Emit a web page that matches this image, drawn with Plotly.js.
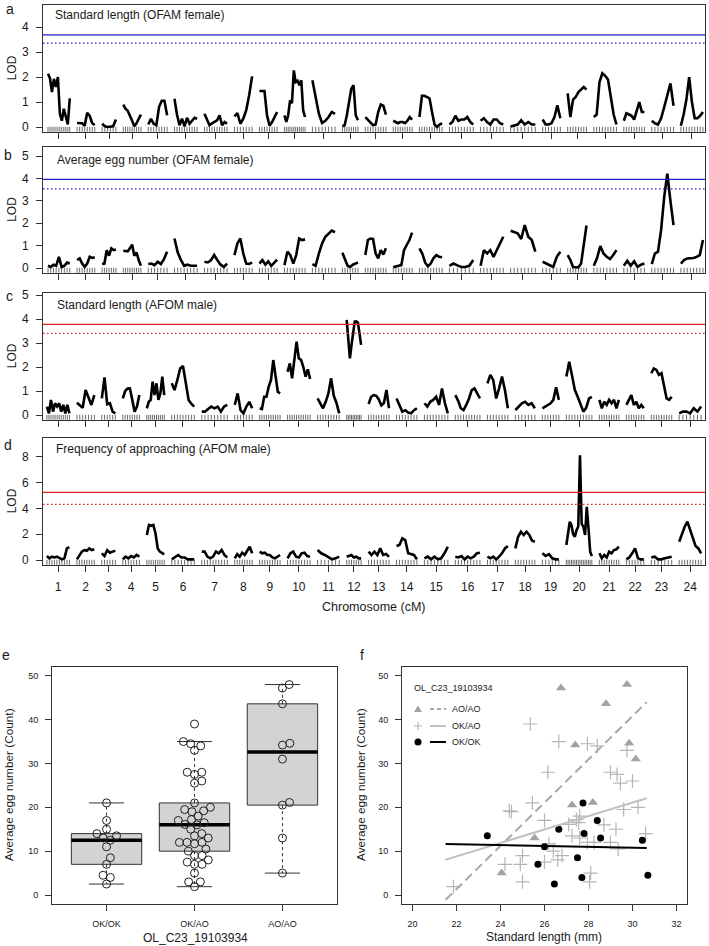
<!DOCTYPE html>
<html><head><meta charset="utf-8">
<script src="https://cdn.plot.ly/plotly-3.0.1.min.js"></script>
<style>html,body{margin:0;padding:0;background:#fff;}#chart{width:709px;height:946px;}</style>
</head><body><div id="chart"></div>
<script>
// ---------------- DATA ----------------
const chromosomes = ['1','2','3','4','5','6','7','8','9','10','11','12','13','14','15','16','17','18','19','20','21','22','23','24'];
const gapCM = 25;
const ofamLenCM = [74,60,47,60,64,77,77,60,60,70,77,53,70,64,77,81,77,84,60,64,77,70,74,75];
const afomLenCM = [75,58,45,55,58,75,85,58,68,75,72,48,68,68,78,82,68,65,55,85,65,58,68,73];

const lodSL_OFAM = [
 [2.13,1.95,1.4,1.93,1.6,2.0,0.53,0.25,0.73,0.4,0.1,1.15],
 [0.16,0.17,0.15,0.05,0.57,0.45,0.15,0.08],
 [0.13,0.03,0.0,0.02,0.03,0.3],
 [0.9,0.73,0.65,0.47,0.25,0.03,0.15,0.33,0.5],
 [0.1,0.33,0.13,0.07,0.8,1.05,1.05,0.47],
 [1.13,0.5,0.07,0.33,0.03,0.37,0.13,0.27,0.37,0.33],
 [0.53,0.27,0.07,0.15,0.2,0.27,0.47,0.07,0.2,0.13],
 [0.43,0.56,0.13,0.33,0.67,1.27,2.03],
 [1.44,1.44,1.44,0.47,0.05,0.2,0.4,0.6],
 [0.47,0.2,0.47,1.07,0.95,2.27,1.8,1.85,1.67,1.87,0.67,0.4],
 [1.87,1.2,0.53,0.16,0.25,0.4,0.6,0.53],
 [0.03,0.07,0.47,1.07,1.53,1.67,0.47,0.27],
 [0.4,0.3,0.2,0.07,0.1,0.6,0.9,0.85,0.5],
 [0.25,0.2,0.15,0.2,0.2,0.15,0.25,0.4,0.3],
 [0.4,1.25,1.25,1.2,1.15,0.6,0.1,0.0,0.1,0.15],
 [0.1,0.2,0.45,0.25,0.3,0.3,0.4,0.2,0.1],
 [0.25,0.35,0.2,0.1,0.3,0.3,0.15,0.1],
 [0.02,0.05,0.1,0.27,0.1,0.2,0.1,0.1],
 [0.3,0.1,0.1,0.15,0.4,0.87,0.35],
 [1.35,0.4,1.1,1.2,1.4,1.5,1.6,1.5],
 [0.4,0.5,1.8,2.15,2.05,1.9,1.2,0.5,0.1],
 [0.25,0.55,0.5,0.45,0.3,0.7,1.0,0.6,0.6],
 [0.25,0.15,0.1,0.35,0.8,1.3,1.75,0.85],
 [0.05,0.5,1.1,2.0,1.0,0.35,0.35,0.45,0.6]
];
const lodEgg_OFAM = [
 [0.1,0.05,0.15,0.1,0.5,0.05,0.1,0.25,0.2],
 [0.36,0.43,0.2,0.05,0.2,0.5,0.45,0.48],
 [0.18,0.2,0.8,0.55,0.88,0.8,0.83],
 [0.77,0.75,0.75,0.88,1.05,0.55,0.7,0.35,0.1],
 [0.18,0.2,0.13,0.28,0.18,0.4,0.73],
 [1.32,0.7,0.36,0.1,0.15,0.1,0.1,0.1],
 [0.28,0.25,0.35,0.58,0.35,0.15,0.05,0.2],
 [0.58,1.1,1.32,0.65,0.2,0.18,0.24],
 [0.2,0.36,0.15,0.3,0.1,0.25,0.38],
 [0.13,0.73,0.58,0.2,0.58,1.32,1.25,1.28],
 [0.18,0.1,0.65,1.1,1.4,1.55,1.67,1.6],
 [0.68,0.35,0.1,0.05,0.15,0.2,0.25],
 [0.58,1.25,1.32,1.3,0.65,0.43,0.8,0.6,0.88],
 [0.03,0.05,0.1,0.13,0.8,1.03,1.25,1.58],
 [0.88,0.65,0.25,0.08,0.2,0.45,0.58,0.5,0.48],
 [0.1,0.2,0.12,0.05,0.05,0.1,0.36],
 [0.1,0.8,0.65,0.8,0.5,0.8,1.13,1.4],
 [1.67,1.6,1.55,1.3,1.92,1.4,1.25,0.73],
 [0.28,0.2,0.15,0.05,0.5,0.73],
 [0.58,0.36,0.05,0.03,0.03,0.2,1.0,1.9],
 [0.1,0.45,0.98,0.65,0.5,0.4,0.58,0.8],
 [0.1,0.32,0.1,0.3,0.05,0.15,0.2],
 [0.18,0.65,0.73,1.7,3.18,4.22,3.0,1.92],
 [0.2,0.36,0.43,0.43,0.45,0.5,0.58,1.25]
];
const lodSL_AFOM = [
 [0.35,0.07,0.63,0.14,0.49,0.35,0.49,0.14,0.42,0.07,0.42,0.07],
 [0.51,0.4,0.3,1.04,0.7,0.42,0.83],
 [0.69,1.57,0.45,0.49,0.14,0.07],
 [0.69,1.0,1.1,1.11,0.63,0.14,0.35,0.83],
 [0.28,0.55,0.63,1.39,0.83,1.32,0.63,0.9,1.6,0.83],
 [1.32,1.04,1.46,1.94,2.04,1.4,0.63,0.46,0.35],
 [0.14,0.14,0.25,0.35,0.28,0.35,0.14,0.35,0.42],
 [0.42,0.9,0.2,0.07,0.35,0.55,0.28],
 [0.28,0.25,0.76,0.76,1.18,1.46,2.29,1.5,0.97,0.9],
 [1.8,2.15,1.53,2.2,3.06,2.36,2.3,2.0,1.6,1.9,1.5],
 [0.69,0.5,0.28,0.55,0.9,1.53,0.8,0.5,0.07],
 [3.96,3.0,2.36,2.9,3.5,3.89,3.9,3.85,3.4,2.92],
 [0.46,0.76,0.83,0.8,0.65,0.4,0.5,1.04,0.28],
 [0.69,0.4,0.14,0.2,0.1,0.07,0.2,0.28],
 [0.49,0.35,0.55,0.63,0.76,0.42,1.1,0.5,0.07],
 [0.83,0.6,0.28,0.2,0.42,0.69,1.04,1.11,0.9,0.69],
 [1.32,1.67,1.45,0.69,1.11,1.6,1.04,0.28],
 [0.2,0.35,0.49,0.55,0.42,0.49,0.28],
 [0.28,0.35,0.45,0.49,0.63,1.15,0.63],
 [1.6,2.22,1.65,1.04,0.76,0.42,0.14,0.3,0.69,0.76],
 [0.63,0.28,0.55,0.42,0.63,0.49,0.63,0.28,0.63],
 [0.42,0.63,0.83,0.42,0.55,0.28,0.42,0.28],
 [1.74,1.94,1.88,1.67,1.74,1.18,0.69,0.63,0.76],
 [0.07,0.14,0.14,0.07,0.28,0.14,0.35]
];
const lodApproach_AFOM = [
 [0.31,0.13,0.26,0.2,0.26,0.13,0.05,0.13,0.9,1.0],
 [0.05,0.39,0.65,0.77,0.72,0.9,0.77,0.83],
 [0.52,0.31,0.77,0.57,0.65,0.72],
 [0.05,0.26,0.13,0.31,0.2,0.39,0.26],
 [1.94,2.71,2.65,2.71,2.06,0.9,0.65,0.55,0.44],
 [0.05,0.2,0.39,0.2,0.2,0.05,0.05,0.05],
 [0.65,0.65,0.26,0.13,0.26,0.65,0.52,0.77,0.39,0.2],
 [0.13,0.46,0.26,0.57,0.39,0.77,1.03,0.52],
 [0.65,0.52,0.57,0.39,0.39,0.2,0.13,0.26,0.39],
 [0.13,0.52,0.65,0.26,0.2,0.52,0.57,0.3,0.26],
 [0.77,0.52,0.39,0.2,0.05,0.13,0.26],
 [0.26,0.3,0.39,0.2,0.26,0.13,0.13],
 [0.65,0.39,0.65,0.39,0.9,0.39,0.46,0.26],
 [1.08,1.16,1.68,1.55,0.52,0.46,0.39,0.05],
 [0.13,0.26,0.05,0.26,0.05,0.13,0.52,1.03],
 [0.26,0.2,0.31,0.05,0.26,0.13,0.26,0.52,0.57],
 [0.26,0.13,0.26,0.05,0.26,0.52,0.9,1.08],
 [0.9,1.8,2.19,1.94,2.19,1.94,1.5,1.42],
 [0.52,0.31,0.46,0.13,0.05,0.05],
 [1.16,2.06,2.97,2.7,2.0,1.8,2.32,2.6,8.13,2.8,2.6,1.94,4.13,2.5,0.65,0.3],
 [0.52,0.13,0.39,0.2,0.65,0.52,0.77,0.83,1.03],
 [0.05,0.2,0.52,0.9,0.13,0.05,0.05],
 [0.2,0.26,0.05,0.05,0.13,0.2,0.26],
 [1.42,2.06,2.58,2.97,2.32,1.8,1.08,0.9,0.52]
];
// genome-wide thresholds [5%, 10%]
const thrSL_OFAM = [3.69, 3.36];
const thrEgg_OFAM = [3.96, 3.54];
const thrSL_AFOM = [3.78, 3.40];
const thrApproach_AFOM = [5.24, 4.31];

// panels e / f : marker OL_C23_19103934
const genotypes = ['OK/OK','OK/AO','AO/AO'];
const slOKOK  = [23.4,26.0,25.7,26.45,26.65,27.5,27.75,27.8,27.7,28.55,28.4,30.45,30.7];
const eggOKOK = [13.5,11,7,2.5,15,8.5,21,14,4,13,17,12.5,4.5];
const slOKAO  = [21.86,24.2,24.4,24.5,24.9,25.0,25.0,25.35,25.45,26.0,26.0,26.15,26.2,26.4,26.6,26.65,26.8,27.1,27.25,27.45,27.55,27.6,27.6,27.95,27.95,28.05,28.1,28.25,28.4,28.7,29.0,29.0,29.25,29.3,29.35,29.45,29.6,29.75,30.0,30.25,30.6];
const eggOKAO = [1.9,7.0,19.2,19.0,7.0,9.0,3.0,39,21,17,7.5,28,11.7,10,8,35,9,16.1,13.5,17.2,16.5,18,13,34.5,12,3,5,12,34,16,28,12,15,27.5,10.5,25.5,19.5,33,26,20,14];
const slAOAO  = [24.05,25.55,26.75,27.4,27.25,28.2,28.8,29.75,29.85,30.15];
const eggAOAO = [5,13,47.2,34.2,20.5,21.1,43.6,48,34.6,31];
const fitSLRange = [21.5, 30.65];

// ---------------- HELPERS ----------------
const W = 709, H = 946;
const FONT = 'Liberation Sans, Arial, Helvetica, sans-serif';
const TXT = '#1a1a1a';
const px = x => x / W;
const py = y => 1 - y / H;

function chromStarts(lens){ const s=[]; let acc=0; lens.forEach(L=>{ s.push(acc); acc += L + gapCM; }); return s; }
function buildCurve(lens, lods){
  const starts = chromStarts(lens); const x=[], y=[];
  lods.forEach((arr,i)=>{ const n=arr.length; arr.forEach((v,j)=>{ x.push(starts[i] + lens[i]*j/(n-1)); y.push(v); }); x.push(null); y.push(null); });
  return {x,y};
}
function fivenum(vals){
  const x=[...vals].sort((a,b)=>a-b); const n=x.length;
  const n4=Math.floor((n+3)/2)/2; const d=[1,n4,(n+1)/2,n+1-n4,n];
  return d.map(k=>0.5*(x[Math.floor(k)-1]+x[Math.ceil(k)-1]));
}
function swarm(values, center, dPx, pxPerX, pxPerY){
  const order = values.map((v,i)=>i).sort((a,b)=>values[a]-values[b]);
  const placed=[]; const xs=new Array(values.length);
  for(const i of order){
    const y=values[i]*pxPerY; const cands=[0];
    for(const p of placed){ const dy=Math.abs(p.y-y); if(dy<dPx){ const dx=Math.sqrt(dPx*dPx-dy*dy); cands.push(p.x+dx+1e-6, p.x-dx-1e-6);} }
    cands.sort((a,b)=>Math.abs(a)-Math.abs(b));
    let chosen=0;
    for(const c of cands){ if(placed.every(p=>(p.x-c)**2+(p.y-y)**2>=dPx*dPx-1e-4)){ chosen=c; break; } }
    placed.push({x:chosen,y}); xs[i]=center+chosen/pxPerX;
  }
  return xs;
}
function lm(x,y){
  const n=x.length; const mx=x.reduce((a,b)=>a+b,0)/n; const my=y.reduce((a,b)=>a+b,0)/n;
  let sxy=0,sxx=0; for(let i=0;i<n;i++){ sxy+=(x[i]-mx)*(y[i]-my); sxx+=(x[i]-mx)**2; }
  const b=sxy/sxx; return {a:my-b*mx,b};
}

const BLUE='rgb(35,35,205)', RED='rgb(225,35,35)';
const panels = [
  {lens:ofamLenCM, lods:lodSL_OFAM, thr:thrSL_OFAM, col:BLUE, yr:[-0.188,4.888], xr:[-17,2234], top:5, bot:131.7, yt:[0,1,2,3,4], title:'Standard length (OFAM female)', letter:'a', lx:10, ly:9, tx:53, ty:15},
  {lens:ofamLenCM, lods:lodEgg_OFAM, thr:thrEgg_OFAM, col:BLUE, yr:[-0.208,5.408], xr:[-17,2234], top:147, bot:272.7, yt:[0,1,2,3,4,5], title:'Average egg number (OFAM female)', letter:'b', lx:8, ly:155, tx:55, ty:160},
  {lens:afomLenCM, lods:lodSL_AFOM, thr:thrSL_AFOM, col:RED, yr:[-0.196,5.096], xr:[-13,2193], top:292.7, bot:419.7, yt:[0,1,2,3,4,5], title:'Standard length (AFOM male)', letter:'c', lx:9, ly:296, tx:55, ty:305},
  {lens:afomLenCM, lods:lodApproach_AFOM, thr:thrApproach_AFOM, col:RED, yr:[-0.364,9.464], xr:[-13,2193], top:438, bot:564.7, yt:[0,2,4,6,8], title:'Frequency of approaching (AFOM male)', letter:'d', lx:8, ly:445, tx:54, ty:449}
];

function axisBase(extra){
  return Object.assign({showline:true, mirror:true, linecolor:'#333', linewidth:1, ticks:'outside', ticklen:6, tickwidth:1, tickcolor:'#333',
    showgrid:false, zeroline:false, fixedrange:true, ticklabelstandoff:5, tickfont:{family:FONT,size:12,color:TXT}}, extra);
}

const traces=[]; const layout={width:W,height:H,margin:{l:0,r:0,t:0,b:0},paper_bgcolor:'#fff',plot_bgcolor:'#fff',showlegend:false,shapes:[],annotations:[]};
function ann(text,x,y,o){ layout.annotations.push(Object.assign({text,x:px(x),y:py(y),xref:'paper',yref:'paper',showarrow:false,xanchor:'center',yanchor:'middle',font:{family:FONT,size:12,color:TXT}},o||{})); }

panels.forEach((p,k)=>{
  const ax = k===0 ? '' : String(k+1);
  const {x,y} = buildCurve(p.lens,p.lods);
  const starts = chromStarts(p.lens);
  const mids = starts.map((s,i)=>s+p.lens[i]/2);
  layout['xaxis'+ax] = axisBase({domain:[px(43),px(705)], anchor:'y'+ax, range:p.xr, tickvals:mids, ticktext:chromosomes, showticklabels:k===3});
  layout['yaxis'+ax] = axisBase({domain:[py(p.bot),py(p.top)], anchor:'x'+ax, range:p.yr, tickvals:p.yt});
  // thresholds
  layout.shapes.push({type:'line', xref:'x'+ax+' domain', yref:'y'+ax, x0:0, x1:1, y0:p.thr[0], y1:p.thr[0], line:{color:p.col,width:1.3}});
  layout.shapes.push({type:'line', xref:'x'+ax+' domain', yref:'y'+ax, x0:0, x1:1, y0:p.thr[1], y1:p.thr[1], line:{color:p.col,width:1.2,dash:'1.5px,2.5px'}});
  // rug of positions
  const rx = x.filter(v=>v!==null);
  traces.push({type:'scatter',mode:'markers',x:rx,y:rx.map(()=>p.yr[0]),xaxis:'x'+ax,yaxis:'y'+ax,cliponaxis:true,hoverinfo:'skip',
    marker:{symbol:'line-ns',size:7,color:'#444',line:{width:0.8,color:'#444'}}});
  traces.push({type:'scatter',mode:'lines',x,y,xaxis:'x'+ax,yaxis:'y'+ax,connectgaps:false,hoverinfo:'skip',line:{color:'#000',width:2.6}});
  ann('LOD',12,(p.top+p.bot)/2,{textangle:-90,font:{family:FONT,size:12,color:TXT}});
  ann(p.title,p.tx,p.ty,{xanchor:'left',font:{family:FONT,size:12,color:TXT}});
  ann(p.letter,p.lx,p.ly,{font:{family:FONT,size:14,color:TXT}});
});
ann('Chromosome (cM)',374,607,{font:{family:FONT,size:12.5,color:TXT}});

// ---------- panel e ----------
const eTop=667, eBot=904, eL=52, eR=337;
const eXr=[0.38,3.62], eYr=[-2.05,52];
layout.xaxis5 = axisBase({domain:[px(eL),px(eR)], anchor:'y5', range:eXr, tickvals:[1,2,3], ticktext:genotypes, tickfont:{family:FONT,size:9,color:TXT}});
layout.yaxis5 = axisBase({domain:[py(eBot),py(eTop)], anchor:'x5', range:eYr, tickvals:[0,10,20,30,40,50], tickfont:{family:FONT,size:9,color:TXT}});
const pxPerX=(eR-eL)/(eXr[1]-eXr[0]), pxPerY=(eBot-eTop)/(eYr[1]-eYr[0]);
[eggOKOK,eggOKAO,eggAOAO].forEach((vals,i)=>{
  const c=i+1; const [mn,q1,med,q3,mx]=fivenum(vals); const iqr=q3-q1;
  const uw=Math.max(...vals.filter(v=>v<=q3+1.5*iqr)); const lw=Math.min(...vals.filter(v=>v>=q1-1.5*iqr));
  const base={xaxis:'x5',yaxis:'y5',hoverinfo:'skip',type:'scatter'};
  traces.push(Object.assign({mode:'lines',x:[c-0.4,c+0.4,c+0.4,c-0.4,c-0.4],y:[q1,q1,q3,q3,q1],fill:'toself',fillcolor:'#d3d3d3',line:{color:'#333',width:1}},base));
  traces.push(Object.assign({mode:'lines',x:[c,c,null,c,c],y:[q3,uw,null,q1,lw],line:{color:'#333',width:1,dash:'3px,3px'}},base));
  traces.push(Object.assign({mode:'lines',x:[c-0.2,c+0.2,null,c-0.2,c+0.2],y:[uw,uw,null,lw,lw],line:{color:'#333',width:1}},base));
  traces.push(Object.assign({mode:'lines',x:[c-0.4,c+0.4],y:[med,med],line:{color:'#000',width:3.5}},base));
  traces.push(Object.assign({mode:'markers',x:swarm(vals,c,7.6,pxPerX,pxPerY),y:vals,marker:{symbol:'circle-open',size:8,color:'#222',line:{width:1,color:'#222'}}},base));
});
ann('Average egg number (Count)',9,785,{textangle:-90,font:{family:FONT,size:11.8,color:TXT}});
ann('OL_C23_19103934',195,938,{font:{family:FONT,size:12,color:TXT}});
ann('e',6,655,{font:{family:FONT,size:14,color:TXT}});

// ---------- panel f ----------
const fL=402, fR=687;
layout.xaxis6 = axisBase({domain:[px(fL),px(fR)], anchor:'y6', range:[19.52,32.48], tickvals:[20,22,24,26,28,30,32], tickfont:{family:FONT,size:9,color:TXT}});
layout.yaxis6 = axisBase({domain:[py(eBot),py(eTop)], anchor:'x6', range:eYr, tickvals:[0,10,20,30,40,50], tickfont:{family:FONT,size:9,color:TXT}});
const fb={xaxis:'x6',yaxis:'y6',hoverinfo:'skip',type:'scatter'};
traces.push(Object.assign({mode:'markers',x:slOKAO,y:eggOKAO,marker:{symbol:'cross-thin-open',size:10,color:'#b5b5b5',line:{width:1.2,color:'#b5b5b5'}}},fb));
traces.push(Object.assign({mode:'markers',x:slAOAO,y:eggAOAO,marker:{symbol:'triangle-up',size:9,color:'#a3a3a3'}},fb));
traces.push(Object.assign({mode:'markers',x:slOKOK,y:eggOKOK,marker:{symbol:'circle',size:7,color:'#000'}},fb));
const fits=[[slAOAO,eggAOAO,{color:'#a8a8a8',width:2,dash:'9px,5px'}],[slOKAO,eggOKAO,{color:'#c2c2c2',width:2}],[slOKOK,eggOKOK,{color:'#000',width:2}]];
fits.forEach(([xs,ys,line])=>{ const {a,b}=lm(xs,ys); traces.push(Object.assign({mode:'lines',x:fitSLRange,y:fitSLRange.map(v=>a+b*v),line},fb)); });
ann('Average egg number (Count)',361,785,{textangle:-90,font:{family:FONT,size:11.8,color:TXT}});
ann('Standard length (mm)',544,937,{font:{family:FONT,size:12,color:TXT}});
ann('f',362,655,{font:{family:FONT,size:14,color:TXT}});
// legend (drawn as layout decorations)
ann('OL_C23_19103934',412,688,{xanchor:'left',font:{family:FONT,size:9,color:TXT}});
const legRows=[['AO/AO',709],['OK/AO',726],['OK/OK',742]];
legRows.forEach(([t,y])=>ann(t,450,y,{xanchor:'left',font:{family:FONT,size:9,color:TXT}}));
const P=(x,y)=>px(x)+','+py(y);
layout.shapes.push({type:'path',xref:'paper',yref:'paper',path:'M'+P(418,705.5)+' L'+P(422,712)+' L'+P(414,712)+' Z',fillcolor:'#a3a3a3',line:{width:0}});
layout.shapes.push({type:'line',xref:'paper',yref:'paper',x0:px(430),x1:px(446),y0:py(709),y1:py(709),line:{color:'#a8a8a8',width:2,dash:'4px,3px'}});
layout.shapes.push({type:'line',xref:'paper',yref:'paper',x0:px(414),x1:px(422),y0:py(726),y1:py(726),line:{color:'#b5b5b5',width:1.1}});
layout.shapes.push({type:'line',xref:'paper',yref:'paper',x0:px(418),x1:px(418),y0:py(722),y1:py(730),line:{color:'#b5b5b5',width:1.1}});
layout.shapes.push({type:'line',xref:'paper',yref:'paper',x0:px(430),x1:px(446),y0:py(726),y1:py(726),line:{color:'#c2c2c2',width:2}});
layout.shapes.push({type:'circle',xref:'paper',yref:'paper',x0:px(414.5),x1:px(421.5),y0:py(745.5),y1:py(738.5),fillcolor:'#000',line:{width:0}});
layout.shapes.push({type:'line',xref:'paper',yref:'paper',x0:px(430),x1:px(446),y0:py(742),y1:py(742),line:{color:'#000',width:2}});

Plotly.newPlot('chart',traces,layout,{staticPlot:true,displayModeBar:false});
</script></body></html>
